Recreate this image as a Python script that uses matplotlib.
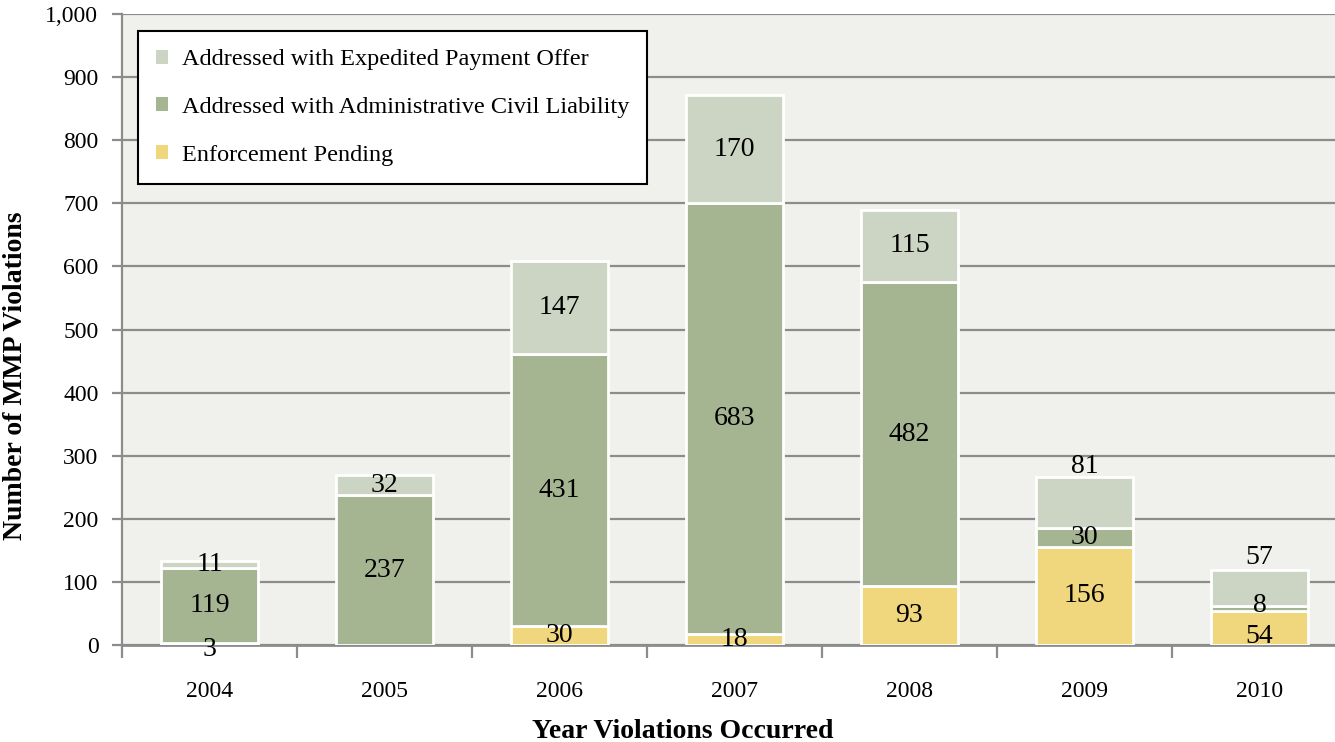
import numpy as np
import matplotlib.pyplot as plt

# =========================
# DATA
# =========================

years = ["2004", "2005", "2006", "2007", "2008", "2009", "2010"]
pending = [3, 0, 30, 18, 93, 156, 54]
acl = [119, 237, 431, 683, 482, 30, 8]
epo = [11, 32, 147, 170, 115, 81, 57]

series_names = [
    "Addressed with Expedited Payment Offer",
    "Addressed with Administrative Civil Liability",
    "Enforcement Pending",
]

c_epo = "#ccd5c4"
c_acl = "#a5b592"
c_pen = "#f0d67c"

# label nudges (in data units) where the original labels were moved by hand
nudge = {("pen", 0): -9, ("epo", 5): 56, ("epo", 6): 48, ("acl", 6): 5, ("pen", 6): -14}

plt.rcParams["font.family"] = ["Liberation Serif", "DejaVu Serif"]

fig = plt.figure(figsize=(13.35, 7.42), dpi=100)
ax = fig.add_axes([122 / 1335, 97 / 742, 1225 / 1335, 631 / 742])
ax.set_facecolor("#f0f1ec")

x = np.arange(len(years))
w = 0.55
pen_a = np.array(pending)
acl_a = np.array(acl)
epo_a = np.array(epo)

b_pen = ax.bar(x, pen_a, w, color=c_pen, edgecolor="white", linewidth=2, zorder=3)
b_acl = ax.bar(x, acl_a, w, bottom=pen_a, color=c_acl, edgecolor="white", linewidth=2, zorder=3)
b_epo = ax.bar(x, epo_a, w, bottom=pen_a + acl_a, color=c_epo, edgecolor="white", linewidth=2, zorder=3)

# value labels
for key, vals, bottoms in [("pen", pen_a, np.zeros(len(x))),
                           ("acl", acl_a, pen_a),
                           ("epo", epo_a, pen_a + acl_a)]:
    for i in range(len(x)):
        if vals[i] == 0:
            continue
        yc = bottoms[i] + vals[i] / 2 + nudge.get((key, i), 0)
        ax.text(x[i], yc, str(vals[i]), ha="center", va="center",
                fontsize=20, color="black", zorder=5)

# axes styling
ax.set_xlim(-0.5, 6.5)
ax.set_ylim(0, 1000)
ax.set_yticks(np.arange(0, 1001, 100))
ax.set_yticklabels([f"{v:,}" for v in range(0, 1001, 100)], fontsize=17)
ax.yaxis.grid(True, color="#8c8c8c", linewidth=1.6, zorder=1)
ax.set_axisbelow(True)
ax.tick_params(axis="y", length=7, width=1.6, color="#8c8c8c", pad=10)

ax.set_xticks(x)
ax.set_xticklabels(years, fontsize=17)
ax.set_xticks(np.arange(-0.5, 7, 1), minor=True)
ax.tick_params(axis="x", which="major", length=0, pad=26)
ax.tick_params(axis="x", which="minor", length=9, width=1.6, color="#8c8c8c")

for s in ["top", "right"]:
    ax.spines[s].set_visible(False)
ax.spines["left"].set_color("#8c8c8c")
ax.spines["left"].set_linewidth(1.6)
ax.spines["bottom"].set_color("#8c8c8c")
ax.spines["bottom"].set_linewidth(2)

ax.set_ylabel("Number of MMP Violations", fontsize=20, fontweight="bold")
ax.set_xlabel("Year Violations Occurred", fontsize=20, fontweight="bold")
ax.yaxis.set_label_coords(-0.077, 0.426)
ax.xaxis.set_label_coords(0.458, -0.118)

leg = ax.legend([b_epo, b_acl, b_pen], series_names, loc="upper left",
                bbox_to_anchor=(0.013, 0.973), fontsize=17.5, frameon=True,
                fancybox=False, edgecolor="black", framealpha=1,
                handlelength=0.5, handleheight=0.5, handletextpad=0.55,
                labelspacing=1.1, borderpad=0.75, borderaxespad=0)
leg.get_frame().set_linewidth(1.5)
for h in leg.legend_handles:
    h.set_edgecolor("none")

plt.savefig("out.png", dpi=100)
plt.close()
